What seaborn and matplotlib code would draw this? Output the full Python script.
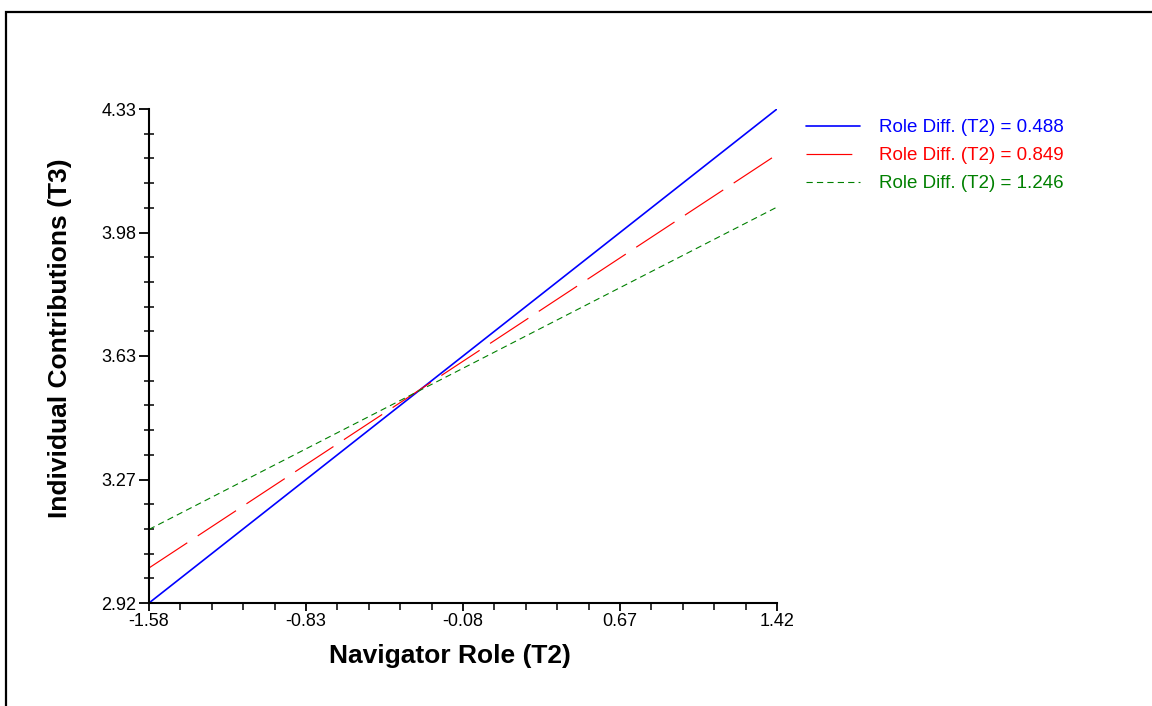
import numpy as np
import pandas as pd
import matplotlib
matplotlib.use("Agg")
import matplotlib.pyplot as plt
from matplotlib.ticker import AutoMinorLocator, FixedLocator, FixedFormatter
from matplotlib.patches import Rectangle
import seaborn as sns

# ---- data ----
x_vals = [-1.58, 1.42]
blue_vals = [2.92, 4.33]
red_vals = [3.02, 4.20]
green_vals = [3.13, 4.05]
series_labels = ["Role Diff. (T2) = 0.488", "Role Diff. (T2) = 0.849", "Role Diff. (T2) = 1.246"]
x_ticks = [-1.58, -0.83, -0.08, 0.67, 1.42]
x_tick_labels = ["-1.58", "-0.83", "-0.08", "0.67", "1.42"]
y_ticks = [2.92, 3.2725, 3.625, 3.9775, 4.33]
y_tick_labels = ["2.92", "3.27", "3.63", "3.98", "4.33"]
x_label = "Navigator Role (T2)"
y_label = "Individual Contributions (T3)"

sns.set_theme(style="white")
plt.rcParams["font.family"] = ["Liberation Sans", "DejaVu Sans"]
plt.rcParams["lines.scale_dashes"] = False

fig = plt.figure(figsize=(11.52, 7.06), dpi=100)
ax = fig.add_axes([149/1152, 1-603/706, (777-149)/1152, (603-109)/706])

colors = ["#0000ff", "#ff0000", "#008000"]
styles = ["-", (0, (33, 9)), (0, (4.5, 3.0))]
widths = [1.2, 0.85, 0.8]
series = [blue_vals, red_vals, green_vals]

for vals, lab, c, ls, lw in zip(series, series_labels, colors, styles, widths):
    df = pd.DataFrame({"x": x_vals, "y": vals})
    sns.lineplot(data=df, x="x", y="y", ax=ax, color=c, linestyle=ls, lw=lw,
                 label=lab, legend=False)

ax.set_xlim(x_vals[0], x_vals[-1])
ax.set_ylim(2.92, 4.33)
ax.xaxis.set_major_locator(FixedLocator(x_ticks))
ax.xaxis.set_major_formatter(FixedFormatter(x_tick_labels))
ax.yaxis.set_major_locator(FixedLocator(y_ticks))
ax.yaxis.set_major_formatter(FixedFormatter(y_tick_labels))
ax.xaxis.set_minor_locator(AutoMinorLocator(5))
ax.yaxis.set_minor_locator(AutoMinorLocator(5))

for s in ["top", "right"]:
    ax.spines[s].set_visible(False)
for s in ["left", "bottom"]:
    ax.spines[s].set_color("black")
    ax.spines[s].set_linewidth(1.5)

ax.tick_params(axis="both", which="major", labelsize=13, colors="black", width=1.3)
ax.tick_params(axis="y", which="major", direction="out", length=7, pad=2, left=True)
ax.tick_params(axis="y", which="minor", direction="inout", length=7, width=1.3, left=True)
ax.tick_params(axis="x", which="major", direction="out", length=6, pad=1, bottom=True)
ax.tick_params(axis="x", which="minor", direction="out", length=5, width=1.3, bottom=True)

ax.set_xlabel(x_label, fontsize=19, fontweight="bold", labelpad=10, color="black")
ax.set_ylabel(y_label, fontsize=19, fontweight="bold", labelpad=21, color="black")
ax.xaxis.label.set_x(0.479)
ax.yaxis.label.set_y(0.536)

leg = ax.legend(loc="upper left", bbox_to_anchor=(1.046, 0.979), frameon=False,
                borderaxespad=0, borderpad=0, handlelength=2.9, handletextpad=1.0,
                labelspacing=0.58, fontsize=13.5, labelcolor="linecolor")

# outer frame
fig.add_artist(Rectangle((5.5/1152, -0.2), 1.3, 1.2 - 12/706, transform=fig.transFigure,
                         fill=False, ec="black", lw=1.6))

fig.savefig("out.png", dpi=100)
